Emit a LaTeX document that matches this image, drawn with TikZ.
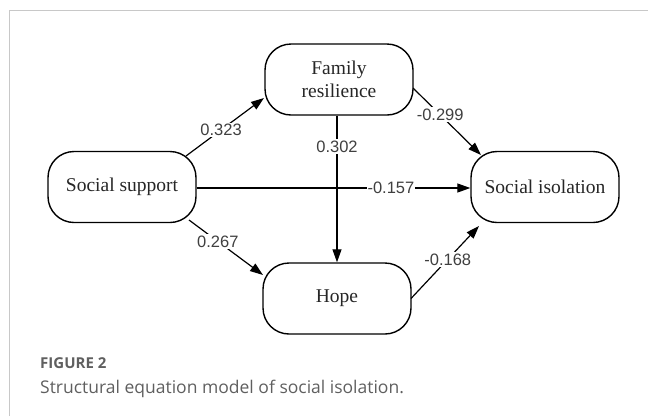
\documentclass[tikz,border=0pt]{standalone}
\usepackage{fontspec}
\setmainfont{Liberation Serif}
\newfontfamily\labfont{Liberation Sans}
\newfontfamily\capfont{Open Sans}
\usetikzlibrary{arrows.meta,calc}
\definecolor{framegray}{HTML}{C8C8C8}
\definecolor{capgray}{HTML}{5F5F5F}
\begin{document}
\begin{tikzpicture}[x=1pt,y=-1pt,
  var/.style={draw,line width=1.4pt,rounded corners=26pt,minimum width=148pt,minimum height=71pt,
    align=center,inner sep=0pt,font=\fontsize{19.5}{23}\selectfont,text=black!85},
  path/.style={line width=1.2pt,-{Triangle[length=13pt,width=9pt]}},
  coef/.style={fill=white,inner sep=1.5pt,font=\labfont\fontsize{16.5}{18}\selectfont,text=black!75}]
\useasboundingbox (0,0) rectangle (648,416);
\draw[framegray,line width=1pt] (9.5,416) -- (9.5,10.5) -- (648,10.5);

\node[var] (fr) at (339,79.5) {Family\\resilience};
\node[var] (ss) at (122,187) {Social support};
\node[var] (si) at (545,187) {Social isolation};
\node[var] (hope) at (337,298.5) {Hope};

\draw[path] ($(ss)+(64,-31)$) -- node[coef,pos=0.45]{0.323} ($(fr)+(-75,18.5)$);
\draw[path] ($(fr)+(74,8.5)$) -- node[coef,pos=0.4]{-0.299} ($(si)+(-64,-32)$);
\draw[path] (ss.east |- 0,188) -- node[coef,pos=0.71,inner sep=1pt]{-0.157} (si.west |- 0,188);
\draw[path] ($(fr.south)+(-2,0)$) -- node[coef,pos=0.21]{0.302} (hope.north);
\draw[path] ($(ss)+(67,33)$) -- node[coef,pos=0.39]{0.267} ($(hope)+(-74,-23.5)$);
\draw[path] ($(hope)+(74,0)$) -- node[coef,pos=0.54]{-0.168} ($(si)+(-66,39)$);

\node[anchor=base west,inner sep=0pt,text=capgray,font=\capfont\bfseries\fontsize{15}{18}\selectfont] (fig) at (40,368) {FIGURE 2};
\node[anchor=base west,inner sep=0pt,text=capgray,font=\capfont\fontsize{17.5}{21}\selectfont] (cap) at (40,393) {Structural equation model of social isolation.};
\end{tikzpicture}
\end{document}
